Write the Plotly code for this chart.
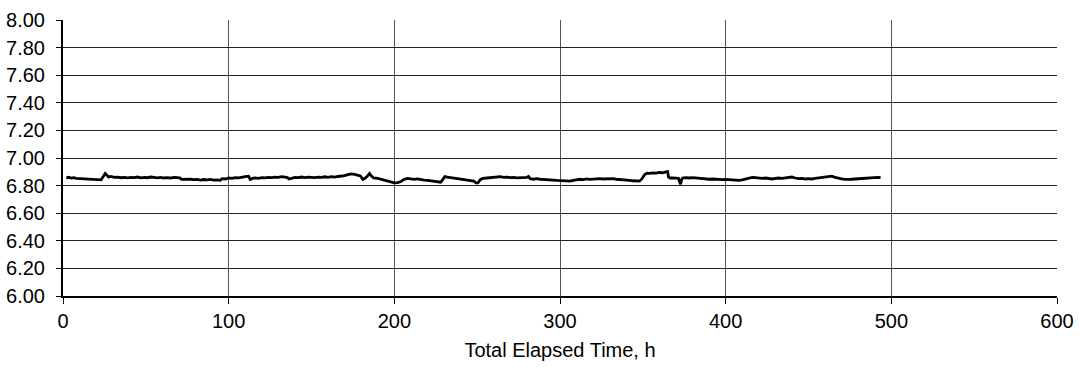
import plotly.graph_objects as go

time_h = [2, 3.5, 5, 6.5, 8, 10, 12, 14, 16, 18, 20, 22, 23, 24.5, 25.5, 26.5, 27.5, 29, 31, 33,
          35, 37, 39, 41, 43, 45, 47, 49, 51, 53, 55, 57, 59, 61, 63, 65, 67, 69, 70.5, 71.5,
          73, 75, 77, 79, 81, 83, 85, 87, 89, 91, 93, 95, 96, 98, 100, 102, 104, 106, 108, 110,
          112, 113, 114.5, 116, 118, 120, 122, 124, 126, 128, 130, 132, 134, 135.5, 136.5, 138, 140, 142, 144, 146,
          148, 150, 152, 154, 156, 158, 160, 162, 164, 166, 168, 170, 172, 174, 176, 178, 179.5, 181, 182.5, 184,
          185, 186, 187.5, 190, 192, 194, 196, 198, 200, 202, 204, 206, 208, 210, 212, 214, 216, 218, 220, 222,
          224, 226, 228, 229, 230.5, 232, 234, 236, 238, 240, 242, 244, 246, 248, 249.5, 250.5, 252, 253.5, 256, 258,
          260, 262, 264, 266, 268, 270, 272, 274, 276, 278, 280, 281, 282, 284, 286, 288, 290, 292, 294, 296,
          298, 300, 302, 304, 306, 308, 310, 312, 314, 316, 318, 320, 322, 324, 326, 328, 330, 332, 334, 336,
          338, 340, 342, 344, 346, 348, 349.5, 351, 352.5, 354, 356, 358, 360, 362, 364, 365, 365.5, 366.5, 368, 370,
          371.5, 372.3, 372.8, 373.3, 374, 376, 378, 380, 382, 384, 386, 388, 390, 392, 394, 396, 398, 400, 402, 404,
          406, 408, 410, 412, 414, 416, 418, 420, 422, 424, 426, 428, 430, 432, 434, 436, 438, 440, 442, 444,
          446, 448, 450, 452, 454, 456, 458, 460, 462, 464, 466, 468, 470, 472, 474, 476, 478, 480, 482, 484,
          486, 488, 490, 492, 493.5]
ph = [6.855, 6.86, 6.855, 6.858, 6.852, 6.85, 6.852, 6.846, 6.848, 6.843, 6.845, 6.838, 6.842, 6.87, 6.888, 6.875, 6.862, 6.866, 6.86, 6.862,
      6.857, 6.86, 6.856, 6.86, 6.858, 6.862, 6.856, 6.86, 6.857, 6.862, 6.86, 6.856, 6.86, 6.855, 6.858, 6.855, 6.86, 6.855, 6.856, 6.845,
      6.846, 6.842, 6.846, 6.843, 6.845, 6.84, 6.844, 6.842, 6.845, 6.84, 6.842, 6.838, 6.85, 6.848, 6.855, 6.852, 6.858, 6.856, 6.862, 6.865,
      6.868, 6.845, 6.852, 6.856, 6.852, 6.858, 6.856, 6.86, 6.858, 6.862, 6.86, 6.865, 6.862, 6.858, 6.848, 6.855, 6.86, 6.858, 6.862, 6.858,
      6.862, 6.86, 6.858, 6.862, 6.86, 6.864, 6.86, 6.865, 6.862, 6.866, 6.868, 6.872, 6.88, 6.885, 6.882, 6.878, 6.87, 6.845, 6.855, 6.872,
      6.888, 6.872, 6.855, 6.852, 6.845, 6.84, 6.835, 6.825, 6.82, 6.822, 6.83, 6.845, 6.852, 6.848, 6.845, 6.848, 6.842, 6.84, 6.838, 6.835,
      6.832, 6.828, 6.825, 6.84, 6.865, 6.862, 6.858, 6.855, 6.852, 6.85, 6.846, 6.843, 6.838, 6.832, 6.818, 6.82, 6.845, 6.852, 6.855, 6.858,
      6.856, 6.862, 6.865, 6.86, 6.862, 6.858, 6.86, 6.856, 6.858, 6.855, 6.86, 6.866, 6.85, 6.846, 6.85, 6.846, 6.845, 6.842, 6.846, 6.84,
      6.838, 6.836, 6.834, 6.83, 6.832, 6.838, 6.842, 6.846, 6.844, 6.848, 6.845, 6.848, 6.846, 6.85, 6.848, 6.85, 6.852, 6.85, 6.846, 6.845,
      6.842, 6.84, 6.838, 6.835, 6.832, 6.832, 6.85, 6.878, 6.89, 6.888, 6.892, 6.89, 6.895, 6.893, 6.9, 6.902, 6.862, 6.855, 6.856, 6.855,
      6.852, 6.825, 6.81, 6.84, 6.855, 6.858, 6.855, 6.858, 6.855, 6.856, 6.852, 6.848, 6.846, 6.848, 6.845, 6.846, 6.844, 6.845, 6.842, 6.844,
      6.84, 6.838, 6.842, 6.848, 6.855, 6.86, 6.858, 6.855, 6.852, 6.855, 6.85, 6.848, 6.852, 6.855, 6.852, 6.856, 6.86, 6.862, 6.855, 6.85,
      6.852, 6.848, 6.85, 6.848, 6.852, 6.855, 6.858, 6.862, 6.866, 6.868, 6.86, 6.852, 6.848, 6.845, 6.848, 6.846, 6.848, 6.85, 6.847, 6.85,
      6.852, 6.855, 6.856, 6.86, 6.858]

x_ticks = [0, 100, 200, 300, 400, 500, 600]
y_ticks = [6.0, 6.2, 6.4, 6.6, 6.8, 7.0, 7.2, 7.4, 7.6, 7.8, 8.0]

fig = go.Figure()
fig.add_trace(go.Scatter(x=time_h, y=ph, mode="lines",
                         line=dict(color="black", width=2.8), showlegend=False))

fig.update_layout(
    width=1079, height=367,
    margin=dict(l=63, r=22, t=20, b=71, autoexpand=False),
    paper_bgcolor="white", plot_bgcolor="white",
    font=dict(family="Liberation Sans, Arial, sans-serif", size=20, color="black"),
    xaxis=dict(range=[0, 600], tickvals=x_ticks, ticktext=[str(v) for v in x_ticks],
               showgrid=True, gridcolor="#555555", gridwidth=1,
               showline=True, linecolor="black", linewidth=1.5,
               ticks="outside", ticklen=6, tickcolor="black",
               zeroline=False, automargin=False,
               title=dict(text="Total Elapsed Time, h", font=dict(size=20), standoff=12)),
    yaxis=dict(range=[6.0, 8.0], tickvals=y_ticks, ticktext=[f"{v:.2f}" for v in y_ticks],
               showgrid=True, gridcolor="#222222", gridwidth=1,
               showline=True, linecolor="black", linewidth=2,
               ticks="outside", ticklen=5, tickcolor="black",
               ticklabelstandoff=7, automargin=False,
               zeroline=False),
)

fig.write_html("out.html")
